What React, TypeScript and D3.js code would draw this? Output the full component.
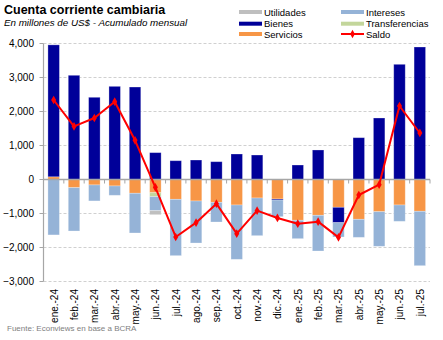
import React from "react";
import * as d3 from "d3";

const months = ["ene.-24","feb.-24","mar.-24","abr.-24","may.-24","jun.-24","jul.-24","ago.-24","sep.-24","oct.-24","nov.-24","dic.-24","ene.-25","feb.-25","mar.-25","abr.-25","may.-25","jun.-25","jul.-25"];
const bienes = [3880, 3065, 2418, 2740, 2720, 790, 553, 573, 524, 750, 720, -30, 426, 868, -452, 1230, 1809, 3388, 3897];
const servicios = [80, -240, -160, -190, -405, -388, -583, -632, -672, -750, -544, -574, -1200, -1053, -818, -1171, -947, -750, -935];
const intereses = [-1630, -1275, -470, -275, -1168, -412, -1657, -1236, -578, -1598, -1108, -490, -540, -1050, -421, -530, -1018, -480, -1600];
const utilidades = [0, 0, 0, 0, 0, -118, 0, 0, 0, 0, 0, 0, 0, 0, 0, 0, 0, 0, 0];
const transferencias = [0, 0, 0, 0, 0, -117, 0, 0, 0, 0, 0, 0, 0, 0, 0, 0, 0, 0, 0];
const saldo = [2338, 1564, 1809, 2289, 1152, -229, -1691, -1270, -711, -1593, -917, -1132, -1299, -1240, -1701, -456, -152, 2162, 1368];
const yTicks = [4000, 3000, 2000, 1000, 0, -1000, -2000, -3000];

const colors: Record<string, string> = {
  Utilidades: "#BFBFBF",
  Intereses: "#95B3D7",
  Bienes: "#000099",
  Transferencias: "#C3D69B",
  Servicios: "#F79646",
  Saldo: "#FF0000",
};

const stackKeys = ["Servicios", "Transferencias", "Bienes", "Intereses", "Utilidades"];
const legendItems = [
  ["Utilidades", "Intereses"],
  ["Bienes", "Transferencias"],
  ["Servicios", "Saldo"],
];

const FONT = "Liberation Sans, Arial, sans-serif";

export default function App() {
  const W = 443, H = 340;
  const x0 = 43.5, x1 = 430;
  const x = d3.scaleBand<string>().domain(months).range([x0, x1]).paddingInner(0.435).paddingOuter(0.2175);
  const y = d3.scaleLinear().domain([-3000, 4000]).range([281.5, 43.5]);

  const rows = months.map((m, i) => ({
    m,
    Bienes: bienes[i],
    Servicios: servicios[i],
    Intereses: intereses[i],
    Utilidades: utilidades[i],
    Transferencias: transferencias[i],
  }));
  const series = d3.stack<any>().keys(stackKeys).offset(d3.stackOffsetDiverging)(rows);

  const step = x.step();
  const cx = (m: string) => (x(m) as number) + x.bandwidth() / 2;
  const line = d3.line<number>().x((_, i) => cx(months[i])).y((v) => y(v));

  const fmt = d3.format(",");

  return (
    <svg width={W} height={H} style={{ position: "absolute", left: 0, top: 0, background: "#fff" }} fontFamily={FONT}>
      <rect x={0} y={0} width={W} height={H} fill="#fff" />
      <text x={4} y={14} fontSize={12.5} fontWeight="bold" fill="#000">Cuenta corriente cambiaria</text>
      <text x={4} y={26} fontSize={9.8} fontStyle="italic" fill="#000">En millones de US$ - Acumulado mensual</text>

      {legendItems.map((row, r) =>
        row.map((name, c) => {
          const lx = c === 0 ? 239 : 341;
          const ly = [12, 23.7, 34][r];
          return (
            <g key={name}>
              {name === "Saldo" ? (
                <g>
                  <line x1={lx} x2={lx + 23} y1={ly} y2={ly} stroke={colors.Saldo} strokeWidth={2} />
                  <path d={d3.symbol(d3.symbolDiamond, 20)() as string} transform={`translate(${lx + 11.5},${ly})`} fill={colors.Saldo} />
                </g>
              ) : (
                <rect x={lx} y={ly - 2} width={23} height={4} fill={colors[name]} />
              )}
              <text x={lx + 25} y={ly + 3.5} fontSize={9.5} fill="#000">{name}</text>
            </g>
          );
        })
      )}

      {yTicks.filter((t) => t !== 0).map((t) => (
        <line key={t} x1={x0} x2={x1} y1={y(t)} y2={y(t)} stroke="#D0D0D0" strokeDasharray="3,2" strokeWidth={1} />
      ))}

      {series.map((s) => (
        <g key={s.key}>
          {s.map((d: any, i: number) => {
            const top = y(Math.max(d[0], d[1]));
            const bot = y(Math.min(d[0], d[1]));
            if (bot - top <= 0) return null;
            return (
              <rect
                key={i}
                x={x(months[i]) as number}
                y={top}
                width={x.bandwidth()}
                height={bot - top}
                fill={colors[s.key as string]}
                stroke="#ffffff"
                strokeOpacity={0.35}
                strokeWidth={0.8}
              />
            );
          })}
        </g>
      ))}

      <line x1={x0} x2={x0} y1={y(4000)} y2={y(-3000)} stroke="#A6A6A6" strokeWidth={1.2} />
      {yTicks.map((t) => (
        <g key={t}>
          <line x1={x0 - 4} x2={x0} y1={y(t)} y2={y(t)} stroke="#A6A6A6" />
          <text x={34} y={y(t) + 3.5} fontSize={10} textAnchor="end" fill="#000">{fmt(t)}</text>
        </g>
      ))}

      <line x1={x0} x2={x1} y1={y(0)} y2={y(0)} stroke="#A6A6A6" strokeWidth={1.5} />
      {d3.range(months.length + 1).map((i) => (
        <line key={i} x1={x0 + i * step} x2={x0 + i * step} y1={y(0)} y2={y(0) + 4} stroke="#A6A6A6" />
      ))}

      <path d={line(saldo) as string} fill="none" stroke={colors.Saldo} strokeWidth={2} strokeLinejoin="round" />
      {saldo.map((v, i) => (
        <path key={i} d={d3.symbol(d3.symbolDiamond, 22)() as string} transform={`translate(${cx(months[i])},${y(v)})`} fill={colors.Saldo} />
      ))}

      {months.map((m) => (
        <text key={m} transform={`translate(${cx(m) + 4},289) rotate(-90)`} fontSize={10} textAnchor="end" fill="#000">{m}</text>
      ))}

      <text x={7} y={331} fontSize={8} fill="#808080">Fuente: Econviews en base a BCRA</text>
    </svg>
  );
}
